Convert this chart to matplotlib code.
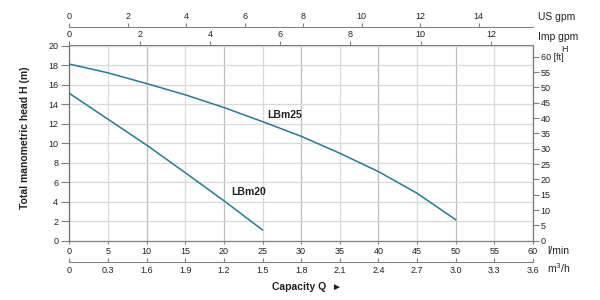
import matplotlib
matplotlib.use("Agg")
import matplotlib.pyplot as plt
import numpy as np

plt.rcParams['font.family'] = ['Liberation Sans', 'DejaVu Sans']

# ---- data ----
q_lbm25 = [0, 5, 10, 15, 20, 25, 30, 35, 40, 45, 50]
h_lbm25 = [18.1, 17.2, 16.1, 14.95, 13.65, 12.2, 10.7, 8.96, 7.08, 4.86, 2.15]
q_lbm20 = [0, 5, 10, 15, 20, 25]
h_lbm20 = [15.1, 12.45, 9.8, 6.97, 4.1, 1.1]

lmin_ticks = list(range(0, 61, 5))
h_ticks = list(range(0, 21, 2))
ft_ticks = list(range(0, 61, 5))
usgpm_ticks = list(range(0, 15, 2))
impgpm_ticks = list(range(0, 13, 2))
m3h_ticks = [0, 0.3, 0.6, 0.9, 1.2, 1.5, 1.8, 2.1, 2.4, 2.7, 3.0, 3.3, 3.6]
m3h_labels = ["0", "0.3", "1.6", "1.9", "1.2", "1.5", "1.8", "2.1", "2.4", "2.7", "3.0", "3.3", "3.6"]

curve_color = "#18809c"
spine_color = "#808080"
text_color = "#222222"
tick_fs = 6.5

fig = plt.figure(figsize=(6, 3), dpi=100)
ax = fig.add_axes([69.3/600, 1-240.7/300, (533-69.3)/600, (240.7-45.5)/300])
ax.set_xlim(0, 60)
ax.set_ylim(0, 20)

# grid
for x in lmin_ticks:
    c = "#bdbdbd" if x % 10 == 0 else "#d9d9d9"
    ax.axvline(x, color=c, lw=0.9, zorder=0)
for y in h_ticks:
    ax.axhline(y, color="#d9d9d9", lw=0.9, zorder=0)

ax.plot(q_lbm25, h_lbm25, color=curve_color, lw=1.1, zorder=3)
ax.plot(q_lbm20, h_lbm20, color=curve_color, lw=1.1, zorder=3)
ax.text(25.6, 12.9, "LBm25", fontsize=7.5, fontweight='bold', color=text_color, ha='left', va='center')
ax.text(21.0, 5.0, "LBm20", fontsize=7.5, fontweight='bold', color=text_color, ha='left', va='center')

for s in ax.spines.values():
    s.set_color(spine_color)
    s.set_linewidth(0.9)
ax.spines['left'].set_color("#707070")
ax.spines['top'].set_visible(False)

ax.set_xticks(lmin_ticks)
ax.set_xticklabels([str(v) for v in lmin_ticks])
ax.set_yticks(h_ticks)
ax.tick_params(axis='x', direction='out', length=2, pad=2.5, labelsize=tick_fs, colors=spine_color, labelcolor=text_color)
ax.tick_params(axis='y', direction='out', length=6, pad=2, labelsize=tick_fs, colors=spine_color, labelcolor=text_color)

# right ft axis
ax2 = ax.twinx()
ax2.set_ylim(0, 60*195.2/184)
ax2.set_yticks(ft_ticks)
ax2.set_yticklabels([str(v) if v != 60 else "60 [ft]" for v in ft_ticks])
ax2.tick_params(axis='y', direction='out', length=4, pad=1.5, labelsize=tick_fs, colors=spine_color, labelcolor=text_color)
for s in ax2.spines.values():
    s.set_visible(False)
ax2.spines['right'].set_visible(True)
ax2.spines['right'].set_color(spine_color)

# top imp gpm (top spine)
imp = ax.secondary_xaxis('top', functions=(lambda x: x/4.546, lambda x: x*4.546))
imp.set_xticks(impgpm_ticks)
imp.tick_params(direction='out', length=3, pad=1.5, labelsize=tick_fs, colors=spine_color, labelcolor=text_color)
imp.spines['top'].set_color(spine_color)

# top US gpm
us = ax.secondary_xaxis((240.7-27)/195.2, functions=(lambda x: x/3.785, lambda x: x*3.785))
us.set_xticks(usgpm_ticks)
us.tick_params(direction='out', length=3, pad=1.5, labelsize=tick_fs, colors=spine_color, labelcolor=text_color)
us.spines['top'].set_color(spine_color)

# bottom m3/h
m3 = ax.secondary_xaxis((240.7-262)/195.2, functions=(lambda x: x*0.06, lambda x: x/0.06))
m3.set_xticks(m3h_ticks)
m3.set_xticklabels(m3h_labels)
m3.tick_params(direction='in', length=3, pad=3, labelsize=tick_fs, colors=spine_color, labelcolor=text_color)
m3.spines['bottom'].set_color(spine_color)

# unit labels
fig.text(538/600, 1-17/300, "US gpm", fontsize=7.5, color=text_color, ha='left', va='center')
fig.text(538/600, 1-37/300, "Imp gpm", fontsize=7.5, color=text_color, ha='left', va='center')
fig.text(564/600, 1-49/300, "H", fontsize=6.5, color=text_color, ha='center', va='center')
fig.text(547/600, 1-251/300, "l/min", fontsize=7.5, color=text_color, ha='left', va='center')
fig.text(547/600, 1-268/300, "m$^3$/h", fontsize=7.5, color=text_color, ha='left', va='center')

fig.text(25/600, 1-137.5/300, "Total manometric head H (m)", fontsize=7.5, fontweight='bold',
         color=text_color, rotation=90, ha='center', va='center')
fig.text(272/600, 1-287/300, "Capacity Q  \u25ba", fontsize=7.5, fontweight='bold',
         color=text_color, ha='left', va='center')

fig.savefig("out.png", dpi=100)
